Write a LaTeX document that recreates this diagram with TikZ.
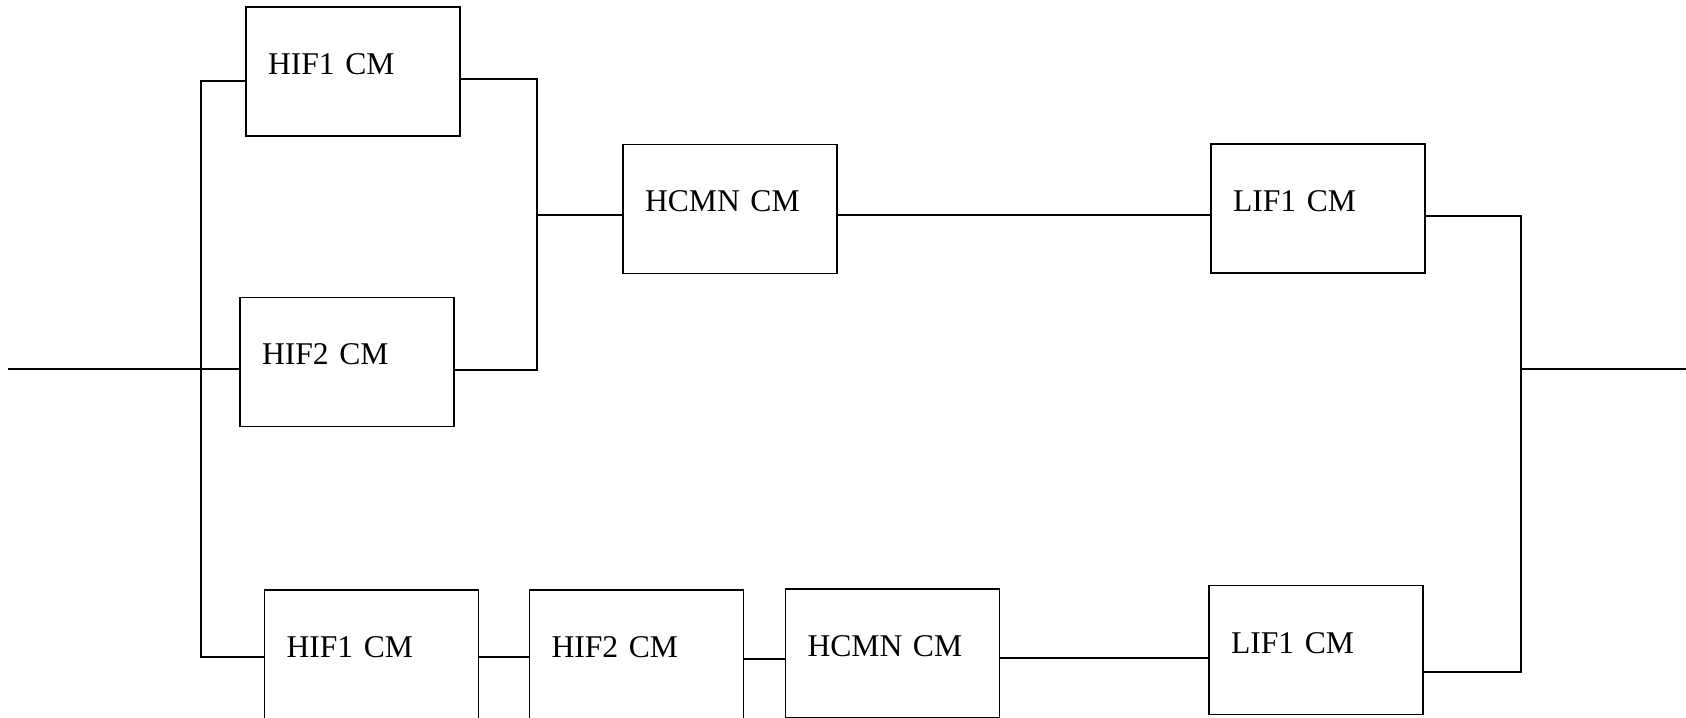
\documentclass[tikz,border=0pt]{standalone}
\usepackage{fontspec}
\setmainfont{Liberation Serif}
\usepackage{tikz}
\usetikzlibrary{positioning, calc}

\begin{document}
\begin{tikzpicture}[
    block/.style={draw, line width=1.1pt, rectangle, minimum width=4.28cm, minimum height=2.58cm,
      text width=3.40cm, inner xsep=0.44cm, inner ysep=0pt, align=left,
      text height=0.42cm, text depth=0.30cm, font=\fontsize{18}{21}\selectfont},
    wire/.style={line width=1.1pt}
]
  \useasboundingbox (0,0) rectangle (33.72,-14.36);

  % Upper parallel pair
  \node[block] (hifA) at (7.06, -1.43) {HIF1 CM};
  \node[block] (hifB) at (6.94, -7.24) {HIF2 CM};

  % Upper series
  \node[block] (hcmnA) at (14.60, -4.18) {HCMN CM};
  \node[block] (lifA) at (26.36, -4.17) {LIF1 CM};

  % Lower series
  \node[block] (hifC) at (7.43, -13.09) {HIF1 CM};
  \node[block] (hifD) at (12.73, -13.09) {HIF2 CM};
  \node[block] (hcmnB) at (17.85, -13.07) {HCMN CM};
  \node[block] (lifB) at (26.32, -13.00) {LIF1 CM};

  % Bus points
  \coordinate (in) at (0.16, -7.38);
  \coordinate (out) at (33.72, -7.38);
  \coordinate (busLtop) at (4.02, -1.62);
  \coordinate (busLbot) at (4.02, -13.14);
  \coordinate (busMtop) at (10.74, -1.58);
  \coordinate (busMbot) at (10.74, -7.40);
  \coordinate (busMmid) at (10.74, -4.30);
  \coordinate (busRtop) at (30.42, -4.32);
  \coordinate (busRbot) at (30.42, -13.44);

  % Connections
  \draw[wire] (in) -- (in -| hifB.west);
  \draw[wire] (hifA.west |- busLtop) -- (busLtop) -- (busLbot) -- (busLbot -| hifC.west);
  \draw[wire] (hifA.east |- busMtop) -- (busMtop) -- (busMbot) -- (busMbot -| hifB.east);
  \draw[wire] (busMmid) -- (busMmid -| hcmnA.west);
  \draw[wire] (hcmnA.east |- busMmid) -- (busMmid -| lifA.west);
  \draw[wire] (lifA.east |- busRtop) -- (busRtop) -- (busRbot) -- (busRbot -| lifB.east);
  \draw[wire] (out -| busRtop) -- (out);
  \draw[wire] (hifC.east |- busLbot) -- (busLbot -| hifD.west);
  \draw[wire] (hifD.east |- 0,-13.18) -- (hcmnB.west |- 0,-13.18);
  \draw[wire] (hcmnB.east |- 0,-13.16) -- (lifB.west |- 0,-13.16);
\end{tikzpicture}
\end{document}
